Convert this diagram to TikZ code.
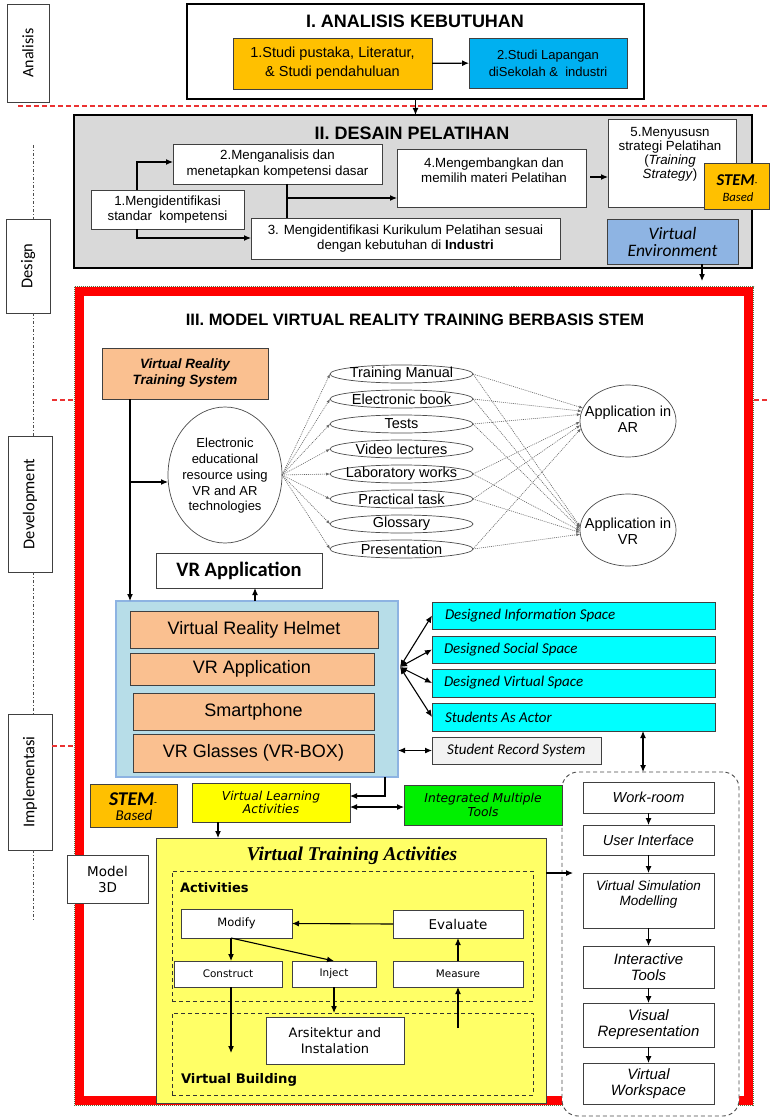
\documentclass[tikz,border=0pt]{standalone}
\usepackage{fontspec}
\setmainfont{Liberation Sans}
\newfontfamily\carl{Carlito}
\newfontfamily\dvs{DejaVu Sans}
\newfontfamily\tms{Liberation Serif}
\usetikzlibrary{arrows.meta,shapes.geometric}
\definecolor{orangeA}{HTML}{FFC000}
\definecolor{blueA}{HTML}{00B0F0}
\definecolor{grayA}{HTML}{D9D9D9}
\definecolor{veblue}{HTML}{8EB4E3}
\definecolor{peach}{HTML}{FAC090}
\definecolor{lbfill}{HTML}{B7DDE8}
\definecolor{lbdraw}{HTML}{8DB3E2}
\definecolor{cyanA}{HTML}{00FFFF}
\definecolor{srsgray}{HTML}{F2F2F2}
\definecolor{yelA}{HTML}{FFFF00}
\definecolor{yelB}{HTML}{FFFF66}
\definecolor{grnA}{RGB}{0,240,0}
\definecolor{redD}{RGB}{235,50,50}
\definecolor{frameDot}{RGB}{90,110,60}
\newcommand\fs[2]{\fontsize{#1}{#2}\selectfont}
% box from its corners: name, x1, y1, x2, y2, style, text
\newcommand\bx[7]{\node[#6,minimum width={#4-#2},minimum height={#5-#3}] (#1) at ({(#2+#4)/2},{(#3+#5)/2}) {#7};}
\begin{document}
\begin{tikzpicture}[x=1pt,y=-1pt,
  bse/.style={inner sep=0pt,outer sep=0pt,align=center},
  gbox/.style={bse,draw=black!75,line width=0.9pt},
  heavy/.style={bse,draw=black,line width=2.2pt},
  sidebox/.style={bse,draw=black!75,line width=0.9pt,fill=white},
  arr/.style={-{Latex[length=7pt,width=6pt]},line width=1.1pt},
  darr/.style={{Latex[length=7pt,width=6pt]}-{Latex[length=7pt,width=6pt]},line width=1.1pt},
  ln/.style={line width=1.1pt},
  dotarr/.style={draw=black!60,line width=0.6pt,dash pattern=on 1pt off 1pt,-{Latex[length=4pt,width=3pt]}},
  reddash/.style={draw=redD,line width=1.3pt,dash pattern=on 5pt off 3pt},
  sideaxis/.style={draw=black!70,line width=0.8pt,dash pattern=on 3pt off 2pt on 1pt off 2pt},
  ell/.style={bse,ellipse,draw=black!70,line width=0.7pt},
  txt/.style={bse},
  dbox/.style={bse,draw=black!80,line width=0.9pt,dash pattern=on 4pt off 3pt},
]
\useasboundingbox (0,0) rectangle (769,1118);
\fill[white] (0,0) rectangle (769,1118);

% ---------- phase labels on the left ----------
\bx{lan}{7}{4}{49}{102}{sidebox}{\rotatebox{90}{\carl\fs{16}{18}Analisis}}
\bx{lde}{6}{219}{50}{313}{sidebox}{\rotatebox{90}{\carl\fs{16.5}{18}Design}}
\bx{ldv}{8}{436}{52}{572}{sidebox}{\rotatebox{90}{\carl\fs{16.5}{18}Development}}
\bx{lim}{8}{714}{52}{850}{sidebox}{\rotatebox{90}{\carl\fs{16.5}{18}Implementasi}}
\coordinate (ax0) at (33,145);
\coordinate (ax1) at (33,920);
\draw[sideaxis] (ax0) -- (ax0 |- lde.north);
\draw[sideaxis] (lde.south -| ax0) -- (ldv.north -| ax0);
\draw[sideaxis] (ldv.south -| ax0) -- (lim.north -| ax0);
\draw[sideaxis] (lim.south -| ax0) -- (ax1);

% phase separators
\coordinate (rd0) at (18,106);  \coordinate (rd1) at (769,106);
\coordinate (rd2) at (52,400);  \coordinate (rd3) at (75,400);
\coordinate (rd4) at (754,400); \coordinate (rd5) at (769,400);
\coordinate (rd6) at (52,746);  \coordinate (rd7) at (75,746);
\draw[reddash] (rd0) -- (rd1);
\draw[reddash] (rd2) -- (rd3);
\draw[reddash] (rd4) -- (rd5);
\draw[reddash] (rd6) -- (rd7);

% ---------- I. Analisis kebutuhan ----------
\bx{secI}{187}{4}{644}{99}{heavy,fill=white}{}
\node[txt,font=\fs{18}{20}\bfseries] (tI) at (415,21) {I. ANALISIS KEBUTUHAN};
\bx{a1}{233}{38}{432}{89}{gbox,fill=orangeA,font=\fs{14.5}{19}}{1.Studi pustaka, Literatur,\\ \& Studi pendahuluan}
\bx{a2}{469}{38}{627}{88}{gbox,fill=blueA,font=\fs{13}{17}}{2.Studi Lapangan\\ diSekolah \&\ \ industri}
\draw[arr] (a1) -- (a2);

% ---------- II. Desain pelatihan ----------
\bx{secII}{74}{115}{752}{268}{heavy,fill=grayA}{}
\draw[arr] (secI.south) -- (secI.south |- secII.north);
\node[txt,font=\fs{18}{20}\bfseries] (tII) at (412,133) {II. DESAIN PELATIHAN};
\bx{d2}{173}{144}{382}{184}{gbox,fill=white,font=\fs{13.3}{15.5}}{2.Menganalisis dan\\ menetapkan kompetensi dasar}
\bx{d1}{91}{190}{244}{229}{gbox,fill=white,font=\fs{13.3}{15.5}}{1.Mengidentifikasi\\ standar\ \ kompetensi}
\bx{d3}{251}{218}{560}{259}{gbox,fill=white,font=\fs{13.3}{15}}{3. Mengidentifikasi Kurikulum Pelatihan sesuai\\ dengan kebutuhan di \textbf{Industri}}
\bx{d4}{397}{149}{586}{207}{gbox,fill=white}{}
\node[txt,font=\fs{13.3}{15.5}] (d4t) at (494,170) {4.Mengembangkan dan\\ memilih materi Pelatihan};
\bx{d5}{608}{119}{736}{207}{gbox,fill=white}{}
\node[txt,font=\fs{13.3}{14}] (d5t) at (670,154) {5.Menyususn\\ strategi Pelatihan\\ (\textit{Training}\\ \textit{Strategy})};
\bx{stA}{704}{163}{769}{209}{gbox,fill=orangeA}{}
\node[txt] (stAt) at (737,180) {\carl\bfseries\itshape\fs{16.5}{18}STEM\fs{8}{8}-};
\node[txt] (stAb) at (738,197) {\carl\itshape\fs{12.7}{14}Based};
\bx{ve}{607}{219}{738}{264}{gbox,fill=veblue,font=\carl\itshape\fs{17.5}{17}}{Virtual\\ Environment}

\coordinate (k1) at (137,162);
\coordinate (k2) at (137,238);
\coordinate (k3) at (287,198);
\coordinate (k4) at (590,177);
\coordinate (k5) at (702,281);
\draw[arr] (d1.north -| k1) |- (d2.west |- k1);
\draw[arr] (d1.south -| k2) |- (d3.west |- k2);
\draw[ln] (d2.south -| k3) -- (d3.north -| k3);
\draw[arr] (k3) -- (d4.west |- k3);
\draw[arr] (k4) -- (d5.west |- k4);
\draw[arr] (ve.south -| k5) -- (k5);

% ---------- III. Model virtual reality training ----------
\draw[red,line width=9pt] (79.5,291.5) rectangle (748.5,1100.5);
\draw[frameDot,line width=0.7pt,dash pattern=on 1pt off 1pt] (74.5,286.5) rectangle (753.5,1105.5);
\node[txt,font=\fs{16.5}{18}\bfseries] (tIII) at (415,320) {III. MODEL VIRTUAL REALITY TRAINING BERBASIS STEM};

% dashed column on the right (drawn early so the frame passes behind it)
\bx{rbox}{562}{772}{739}{1116}{bse,draw=black!70,fill=white,line width=0.9pt,dash pattern=on 4pt off 3pt,rounded corners=16pt}{}

\bx{vrts}{102}{348}{268}{399}{gbox,fill=peach,font=\bfseries\itshape\fs{13.5}{16}}{Virtual Reality\\ Training System}

% educational resources
\node[ell,minimum width=114,minimum height=136] (ee) at (225,475) {};
\node[txt,font=\fs{13}{15.8}] (eet) at (225,476) {Electronic\\ educational\\ resource using\\ VR and AR\\ technologies};
\foreach \i/\t in {0/Training Manual,1/Electronic book,2/Tests,3/Video lectures,4/Laboratory works,5/Practical task,6/Glossary,7/Presentation}{
  \node[ell,minimum width=143,minimum height=18] (m\i) at (401.5,{374+25*\i}) {};
  \node[txt,font=\fs{14.5}{16}] (mt\i) at (m\i) {\t};
  \draw[dotarr] (ee.east) -- (m\i.west);
}
\node[ell,minimum width=96,minimum height=72] (ar) at (628,421) {};
\node[txt,font=\fs{14.5}{15.5}] (art) at (628,419) {Application in\\ AR};
\node[ell,minimum width=96,minimum height=72] (vr) at (628,530) {};
\node[txt,font=\fs{14.5}{15.5}] (vrt) at (628,531) {Application in\\ VR};
\foreach \i/\a/\b in {0/164/176,1/168/177,2/172/179,4/181/181,5/185/183,7/189/185}{
  \draw[dotarr] (m\i.east) -- (ar.\a);
  \draw[dotarr] (m\i.east) -- (vr.\b);
}

% VR hardware
\bx{vrapp}{156}{553}{322}{588}{gbox,fill=white,font=\carl\bfseries\fs{20.5}{22}}{VR Application}
\bx{lb}{116}{601}{398}{777}{bse,draw=lbdraw,fill=lbfill,line width=1.2pt}{}
\bx{h1}{130}{611}{378}{648}{gbox,fill=peach,font=\fs{18}{20}}{Virtual Reality Helmet}
\bx{h2}{130}{653}{374}{685}{gbox,fill=peach,font=\fs{18}{20}}{VR Application}
\bx{h3}{133}{693}{374}{730}{gbox,fill=peach,font=\fs{18}{20}}{Smartphone}
\bx{h4}{133}{734}{374}{772}{gbox,fill=peach,font=\fs{18}{20}}{VR Glasses (VR-BOX)}
\coordinate (v1) at (130,482);
\coordinate (v2) at (255,0);
\draw[arr] (vrts.south -| v1) -- (lb.north -| v1);
\draw[arr] (v1) -- (ee.west |- v1);
\draw[arr] (lb.north -| v2) -- (vrapp.south -| v2);

% designed spaces
\bx{c1}{432}{602}{715}{629}{gbox,fill=cyanA}{}
\bx{c2}{432}{636}{715}{663}{gbox,fill=cyanA}{}
\bx{c3}{432}{669}{715}{697}{gbox,fill=cyanA}{}
\bx{c4}{432}{703}{715}{731}{gbox,fill=cyanA}{}
\bx{srs}{432}{737}{601}{764}{gbox,fill=srsgray}{}
\node[txt,anchor=west,font=\carl\itshape\fs{15}{16}] (c1t) at (445,615.5) {Designed Information Space};
\node[txt,anchor=west,font=\carl\itshape\fs{15}{16}] (c2t) at (444,649.5) {Designed Social Space};
\node[txt,anchor=west,font=\carl\itshape\fs{15}{16}] (c3t) at (444,683) {Designed Virtual Space};
\node[txt,anchor=west,font=\carl\itshape\fs{15}{16}] (c4t) at (445,717) {Students As Actor};
\node[txt,anchor=west,font=\carl\itshape\fs{15}{16}] (srst) at (447,750.5) {Student Record System};
\coordinate (jn) at (400,667);
\foreach \c in {c1,c2,c3,c4}{\draw[darr] (jn) -- (\c.west);}
\draw[darr] (lb.east |- srs) -- (srs.west);
\coordinate (x643) at (643,0);
\draw[darr] (c4.south -| x643) -- (rbox.north -| x643);

% learning activities
\bx{stB}{90}{784}{177}{827}{gbox,fill=orangeA}{}
\node[txt] (stBt) at (133,799) {\carl\bfseries\itshape\fs{19.5}{20}STEM\fs{9}{9}-};
\node[txt] (stBb) at (134,815) {\carl\itshape\fs{15}{16}Based};
\bx{vla}{192}{783}{350}{822}{gbox,fill=yelA,font=\dvs\itshape\fs{12.3}{13.5}}{Virtual Learning\\ Activities}
\bx{imt}{404}{785}{562}{825}{gbox,fill=grnA,font=\dvs\itshape\fs{12.3}{13.5}}{Integrated Multiple\\ Tools}
\coordinate (x385) at (385,796);
\coordinate (y807) at (0,807);
\draw[arr] (lb.south -| x385) |- (vla.east |- x385);
\draw[darr] (vla.east |- y807) -- (imt.west |- y807);

% virtual training activities
\bx{vta}{156}{838}{546}{1103}{gbox,fill=yelB}{}
\coordinate (x218) at (218,0);
\draw[arr] (vla.south -| x218) -- (vta.north -| x218);
\bx{m3d}{67}{855}{148}{903}{gbox,fill=white,font=\dvs\fs{13.5}{16}}{Model\\ 3D}
\node[txt,font=\tms\bfseries\itshape\fs{19.5}{20}] (vtat) at (352,856) {Virtual Training Activities};
\bx{actb}{172}{871}{533}{1001}{dbox}{}
\node[txt,anchor=west,font=\dvs\bfseries\fs{13}{14}] (actt) at (180,888) {Activities};
\bx{mo}{181}{909}{292}{938}{gbox,fill=white,font=\dvs\fs{11.5}{13}}{Modify}
\bx{ev}{393}{910}{523}{938}{gbox,fill=white,font=\dvs\fs{13.5}{15}}{Evaluate}
\bx{co}{174}{961}{282}{987}{gbox,fill=white,font=\dvs\fs{10.4}{12}}{Construct}
\bx{inj}{292}{961}{376}{987}{gbox,fill=white,font=\dvs\fs{10.4}{12}}{Inject}
\bx{me}{393}{961}{523}{987}{gbox,fill=white,font=\dvs\fs{10.4}{12}}{Measure}
\bx{vbb}{172}{1013}{533}{1095}{dbox}{}
\bx{ars}{266}{1017}{404}{1064}{gbox,fill=white,font=\dvs\fs{13}{15.5}}{Arsitektur and\\ Instalation}
\node[txt,anchor=west,font=\dvs\bfseries\fs{13.2}{14}] (vbt) at (181,1080) {Virtual Building};
\coordinate (mb) at (231,938);
\coordinate (cb) at (231,1053);
\coordinate (mm) at (458,1028);
\draw[arr] (ev.west) -- (mo.east);
\draw[arr] (mb) -- (co.north -| mb);
\draw[arr] (mb) -- (inj.north);
\draw[arr] (co.south -| mb) -- (cb);
\draw[arr] (inj.south) -- (inj.south |- vbb.north);
\draw[arr] (mm) -- (me.south -| mm);
\draw[arr] (me.north -| mm) -- (ev.south -| mm);

% workspace chain
\coordinate (q1) at (573,873);
\draw[arr] (vta.east |- q1) -- (q1);
\bx{r1}{583}{782}{714}{813}{gbox,fill=white,font=\itshape\fs{14.5}{16}}{Work-room}
\bx{r2}{583}{825}{714}{855}{gbox,fill=white,font=\itshape\fs{14.5}{16}}{User Interface}
\bx{r3}{583}{873}{714}{928}{gbox,fill=white}{}
\node[txt,font=\itshape\fs{13.5}{15}] (r3t) at (648.5,894) {Virtual Simulation\\ Modelling};
\bx{r4}{583}{946}{714}{988}{gbox,fill=white,font=\itshape\fs{15}{16}}{Interactive\\ Tools}
\bx{r5}{583}{1003}{714}{1047}{gbox,fill=white,font=\itshape\fs{15}{16}}{Visual\\ Representation}
\bx{r6}{583}{1063}{714}{1104}{gbox,fill=white,font=\itshape\fs{15}{16.5}}{Virtual\\ Workspace}
\draw[arr] (r1.south) -- (r2.north);
\draw[arr] (r2.south) -- (r3.north);
\draw[arr] (r3.south) -- (r4.north);
\draw[arr] (r4.south) -- (r5.north);
\draw[arr] (r5.south) -- (r6.north);
\end{tikzpicture}
\end{document}
